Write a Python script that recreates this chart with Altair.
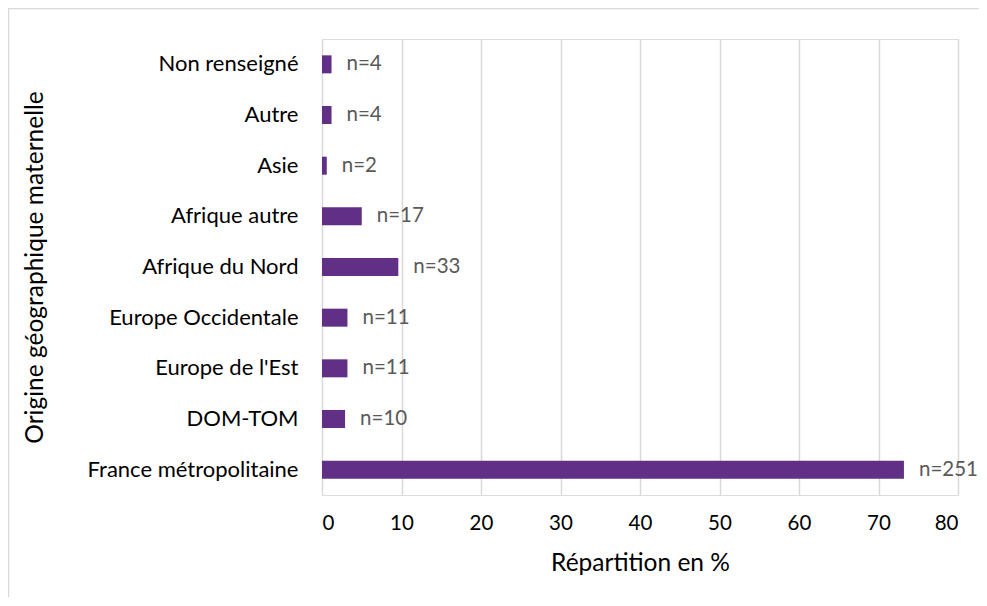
import altair as alt
import pandas as pd

categories = ["Non renseigné", "Autre", "Asie", "Afrique autre", "Afrique du Nord",
              "Europe Occidentale", "Europe de l'Est", "DOM-TOM", "France métropolitaine"]
values = [1.2, 1.2, 0.6, 5.0, 9.6, 3.2, 3.2, 2.9, 73.2]
counts = [4, 4, 2, 17, 33, 11, 11, 10, 251]
x_ticks = [0, 10, 20, 30, 40, 50, 60, 70, 80]

df = pd.DataFrame({
    "cat": categories,
    "val": values,
    "lab": [f"n={c}" for c in counts],
})

FONT = "Lato"

base = alt.Chart(df)

bars = base.mark_bar(color="#612F86", size=18).encode(
    y=alt.Y("cat:N", sort=categories,
            scale=alt.Scale(paddingInner=0, paddingOuter=0),
            axis=alt.Axis(title="Origine géographique maternelle", ticks=False, domain=False,
                          labelPadding=24, labelFontSize=22, labelColor="#000000",
                          labelLimit=0, labelFontWeight="normal",
                          labelFont=FONT, titleFont=FONT, titleFontSize=24.5,
                          titleFontWeight="normal", titleColor="#000000",
                          titleX=-287, titleY=228, titleAngle=-90,
                          titleBaseline="middle", titleAlign="center")),
    x=alt.X("val:Q", scale=alt.Scale(domain=[0, 80], nice=False),
            axis=alt.Axis(title="Répartition en %", values=x_ticks, ticks=False, domain=False,
                          grid=True, gridColor="#d9d9d9", gridWidth=1.5,
                          labelFontSize=20.5, labelColor="#000000", labelFont=FONT,
                          labelFontWeight="normal",
                          labelPadding=18, titleFont=FONT, titleFontSize=24.5,
                          titleFontWeight="normal", titleColor="#000000",
                          titleY=68, titleBaseline="middle")),
)

labels = base.mark_text(align="left", baseline="middle", dx=15, fontSize=20.5,
                        font=FONT, color="#595959").encode(
    y=alt.Y("cat:N", sort=categories),
    x=alt.X("val:Q"),
    text="lab:N",
)

frame = alt.Chart(pd.DataFrame({"a": [0]})).mark_rect(
    fill=None, stroke="#d9d9d9", strokeWidth=1.5, clip=False).encode(
    x=alt.value(-313.5), x2=alt.value(700), y=alt.value(-30.5), y2=alt.value(700))

chart = alt.layer(frame, bars, labels).properties(
    width=636, height=456,
    autosize=alt.AutoSizeParams(type="none"),
    padding={"left": 314, "top": 31, "right": 21, "bottom": 102},
).configure_view(stroke=None).configure(background="white")

chart.save("out.html", embed_options={"renderer": "svg", "actions": False})
